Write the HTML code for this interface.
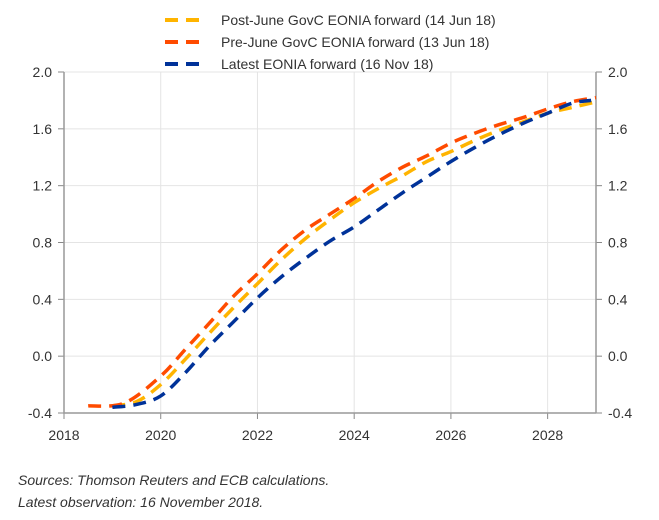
<!DOCTYPE html>
<html><head><meta charset="utf-8"><style>
body{margin:0;background:#fff;width:659px;height:520px;overflow:hidden;font-family:"Liberation Sans",sans-serif}
svg{position:absolute;left:0;top:0}
</style></head><body>
<svg id="chart" width="659" height="520">
<g id="grid"></g>
<g id="axes"></g>
<g id="series"></g>
<g font-size="14" fill="#333">
 <line x1="165" y1="20" x2="206" y2="20" stroke="#FFB400" stroke-width="4" stroke-dasharray="13,8"/>
 <text x="221" y="25">Post-June GovC EONIA forward (14 Jun 18)</text>
 <line x1="165" y1="42" x2="206" y2="42" stroke="#FF4B00" stroke-width="4" stroke-dasharray="13,8"/>
 <text x="221" y="47">Pre-June GovC EONIA forward (13 Jun 18)</text>
 <line x1="165" y1="64" x2="206" y2="64" stroke="#003299" stroke-width="4" stroke-dasharray="13,8"/>
 <text x="221" y="69">Latest EONIA forward (16 Nov 18)</text>
</g>
<g font-size="14" font-style="italic" fill="#333">
 <text x="18" y="485">Sources: Thomson Reuters and ECB calculations.</text>
 <text x="18" y="507">Latest observation: 16 November 2018.</text>
</g>
</svg>
<script>
const yTicks=[2.0,1.6,1.2,0.8,0.4,0.0,-0.4];
const yTickLabels=["2.0","1.6","1.2","0.8","0.4","0.0","-0.4"];
const xTicks=[2018,2020,2022,2024,2026,2028];
const redYears=[2018.5,2019.25,2020,2020.5,2021,2021.5,2022,2022.5,2023,2023.5,2024,2024.5,2025,2025.5,2026,2026.5,2027,2027.5,2028,2028.5,2029];
const redVals=[-0.35,-0.33,-0.14,0.045,0.23,0.42,0.58,0.75,0.89,1.0,1.11,1.23,1.33,1.41,1.5,1.57,1.63,1.68,1.74,1.79,1.82];
const yelYears=[2019,2019.5,2020,2020.5,2021,2021.5,2022,2022.5,2023,2023.5,2024,2024.5,2025,2025.5,2026,2026.5,2027,2027.5,2028,2028.5,2029];
const yelVals=[-0.35,-0.32,-0.2,-0.025,0.16,0.34,0.51,0.68,0.83,0.96,1.08,1.18,1.27,1.37,1.44,1.52,1.59,1.65,1.71,1.75,1.79];
const bluYears=[2019,2019.5,2020,2020.5,2021,2021.5,2022,2022.5,2023,2023.5,2024,2024.5,2025,2025.5,2026,2026.5,2027,2027.5,2028,2028.5,2028.9];
const bluVals=[-0.36,-0.34,-0.28,-0.12,0.07,0.24,0.41,0.56,0.69,0.81,0.91,1.03,1.15,1.26,1.37,1.47,1.56,1.64,1.71,1.78,1.8];
const L=64,R=596,T=72,B=413;
const x=v=>L+(v-2018)/11*(R-L);
const y=v=>T+(2.0-v)/2.4*(B-T);
const NS="http://www.w3.org/2000/svg";
function mk(tag,parent){const e=document.createElementNS(NS,tag);document.getElementById(parent).appendChild(e);return e;}
yTicks.forEach((t,i)=>{
 const g=mk('line','grid');
 
 
 g.setAttribute('x1',L);g.setAttribute('x2',R);g.setAttribute('y1',y(t));g.setAttribute('y2',y(t));g.setAttribute('stroke','#e4e4e4');
 const a=mk('text','axes');
 
 
 a.setAttribute('x',L-12);a.setAttribute('y',y(t)+5);a.setAttribute('text-anchor','end');a.setAttribute('font-size','14');a.setAttribute('fill','#333');a.textContent=yTickLabels[i];
 const b=mk('text','axes');
 
 
 b.setAttribute('x',R+12);b.setAttribute('y',y(t)+5);b.setAttribute('font-size','14');b.setAttribute('fill','#333');b.textContent=yTickLabels[i];
 const k=mk('line','axes');
 
 
 k.setAttribute('x1',R);k.setAttribute('x2',R+6);k.setAttribute('y1',y(t));k.setAttribute('y2',y(t));k.setAttribute('stroke','#888');
 const k2=mk('line','axes');
 
 
 k2.setAttribute('x1',L-6);k2.setAttribute('x2',L);k2.setAttribute('y1',y(t));k2.setAttribute('y2',y(t));k2.setAttribute('stroke','#888');
});
xTicks.forEach(t=>{
 if(t>2018){const g=mk('line','grid');
 
 
 g.setAttribute('x1',x(t));g.setAttribute('x2',x(t));g.setAttribute('y1',T);g.setAttribute('y2',B);g.setAttribute('stroke','#e4e4e4');}
 const a=mk('text','axes');
 
 
 a.setAttribute('x',x(t));a.setAttribute('y',B+27);a.setAttribute('text-anchor','middle');a.setAttribute('font-size','14');a.setAttribute('fill','#333');a.textContent=t;
 const k=mk('line','axes');
 
 
 k.setAttribute('x1',x(t));k.setAttribute('x2',x(t));k.setAttribute('y1',B);k.setAttribute('y2',B+6);k.setAttribute('stroke','#888');
});
[[L,T,L,B,'left-axis'],[L,B,R,B,'x-axis'],[R,T,R,B,'right-axis']].forEach(a=>{
 const l=mk('line','axes');
 
 
 l.setAttribute('x1',a[0]);l.setAttribute('y1',a[1]);l.setAttribute('x2',a[2]);l.setAttribute('y2',a[3]);l.setAttribute('stroke','#999');l.setAttribute('stroke-width','1.5');
});
function smooth(xs,vs){const p=xs.map((v,i)=>[x(v),y(vs[i])]);let d='M'+p[0][0]+','+p[0][1];
 for(let i=0;i<p.length-1;i++){const p0=p[Math.max(0,i-1)],p1=p[i],p2=p[i+1],p3=p[Math.min(p.length-1,i+2)];
 d+=' C'+(p1[0]+(p2[0]-p0[0])/6)+','+(p1[1]+(p2[1]-p0[1])/6)+' '+(p2[0]-(p3[0]-p1[0])/6)+','+(p2[1]-(p3[1]-p1[1])/6)+' '+p2[0]+','+p2[1];}
 return d;}
[[yelYears,yelVals,'#FFB400','post-june-line'],[redYears,redVals,'#FF4B00','pre-june-line'],[bluYears,bluVals,'#003299','latest-line']].forEach(s=>{
 const p=mk('path','series');
 
 
 p.setAttribute('d',smooth(s[0],s[1]));p.setAttribute('fill','none');p.setAttribute('stroke',s[2]);p.setAttribute('stroke-width','3.5');p.setAttribute('stroke-dasharray','13,8');
});
</script>
</body></html>
